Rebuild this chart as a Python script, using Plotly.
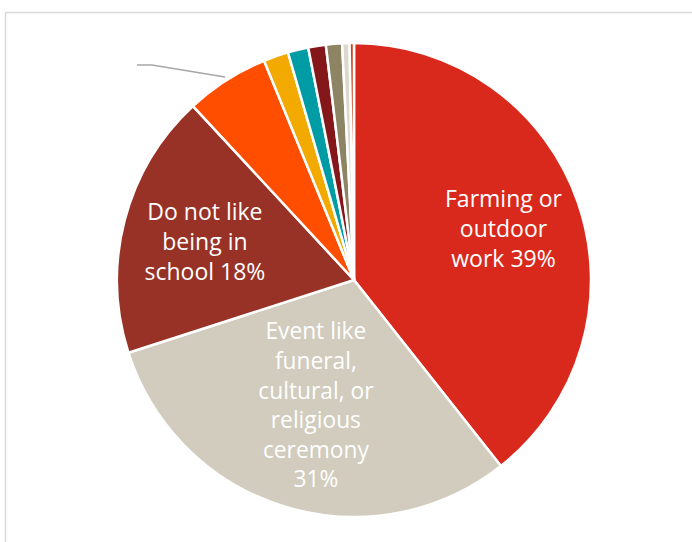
import math
import plotly.graph_objects as go

categories = [
    "Farming or<br>outdoor<br>work",
    "Event like<br>funeral,<br>cultural, or<br>religious<br>ceremony",
    "Do not like<br>being in<br>school",
    "Sick or injured",
    "Bad weather",
    "Caring for family",
    "Too far to travel",
    "No money for school",
    "Other",
    "Don't know",
]
values = [39.4, 30.7, 18.1, 5.7, 1.7, 1.4, 1.2, 1.1, 0.5, 0.3]
colors = ["#D9291C", "#D1CCBD", "#983226", "#FF4E00", "#F2A900",
          "#009CA6", "#84171A", "#8C8463", "#DDD8CC", "#C8471E"]
templates = ["", "%{label}<br>%{percent:.0%}",
             "%{label} %{percent:.0%}"] + [""] * 7
positions = ["none", "inside", "inside"] + ["none"] * 7

W, H = 692, 542
cx, cy, r = 354, 280, 237
FONT = dict(family="Open Sans", size=23, color="white")

fig = go.Figure(go.Pie(
    labels=categories,
    values=values,
    sort=False,
    direction="clockwise",
    rotation=0,
    marker=dict(colors=colors, line=dict(color="white", width=2.5)),
    texttemplate=templates,
    textposition=positions,
    insidetextorientation="horizontal",
    textfont=FONT,
    hoverinfo="label+percent",
    showlegend=False,
    domain=dict(x=[(cx - r) / W, (cx + r) / W], y=[(H - cy - r) / H, (H - cy + r) / H]),
))

# label of the first slice, placed further out along its mid-angle
total = sum(values)
mid = math.radians(values[0] / total * 360 / 2)
lx = (cx + 0.67 * r * math.sin(mid)) / W
ly = 1 - (cy - 0.67 * r * math.cos(mid)) / H
fig.add_annotation(x=lx, y=ly, xref="paper", yref="paper", showarrow=False,
                   text=f"{categories[0]} {values[0] / total:.0%}", font=FONT,
                   xanchor="center", yanchor="middle")

# chart frame (cropped on right/bottom) and leader line
fig.add_shape(type="path", xref="paper", yref="paper",
              path=f"M {5.5/W} -0.02 L {5.5/W} {1-12.5/H} L 1.02 {1-12.5/H}",
              line=dict(color="#D9D9D9", width=1.5))
fig.add_shape(type="path", xref="paper", yref="paper",
              path=f"M {137/W} {1-65/H} L {152/W} {1-65/H} L {225/W} {1-77/H}",
              line=dict(color="#A6A6A6", width=1.5))

fig.update_layout(width=W, height=H, margin=dict(l=0, r=0, t=0, b=0),
                  paper_bgcolor="white", plot_bgcolor="white")
fig.write_html("out.html")
